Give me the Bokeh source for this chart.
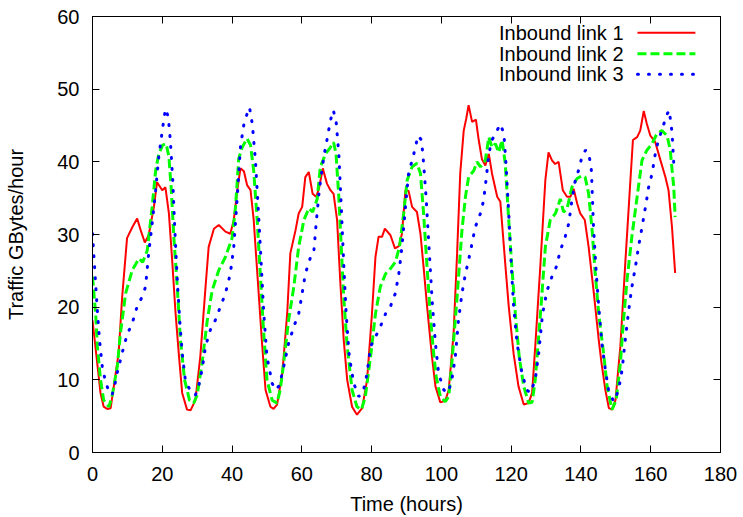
from bokeh.plotting import figure
from bokeh.models import Range1d, LinearAxis, FixedTicker
from bokeh.core.properties import value
from bokeh.embed import file_html
from bokeh.resources import INLINE

# ---------------- data ----------------
link1_x = [0, 2.3, 3.2, 4.2, 5.2, 7.5, 8.5, 9.9, 11.4, 12.8, 13.8, 15.0, 16.1, 17.6, 18.5, 20.0, 20.9,
           21.9, 22.9, 23.8, 24.8, 25.7, 27.1, 28.1, 29.5, 30.9, 32.4, 33.3, 34.8, 36.2, 38.1, 39.5,
           40.5, 41.5, 42.4, 43.4, 44.3, 45.3, 46.2, 47.7, 48.6, 49.6, 51.0, 51.9, 52.9, 54.4, 55.8,
           56.7, 58.2, 59.1, 60.1, 61.0, 62.0, 63.1, 64.1, 64.9, 66.0, 67.2, 68.2, 69.1, 70.1, 71.0,
           72.0, 73.0, 74.4, 75.8, 77.3, 78.7, 80.1, 81.1, 82.0, 83.0, 83.8, 85.4, 86.7, 87.8, 88.7,
           89.7, 90.6, 91.6, 93.0, 94.0, 94.9, 95.9, 97.3, 98.3, 99.7, 101.1, 102.1, 103.5, 104.5,
           105.4, 106.4, 107.1, 107.8, 108.8, 109.9, 110.7, 111.6, 112.6, 113.6, 114.5, 116.0, 116.9,
           118.3, 119.3, 120.7, 122.1, 123.6, 125.0, 126.0, 126.9, 128.4, 129.8, 130.7, 131.7, 132.6,
           133.6, 134.8, 136.0, 137.0, 137.9, 138.9, 139.8, 141.1, 142.2, 143.7, 145.1, 145.9, 147.0,
           148.0, 148.9, 149.9, 151.3, 152.7, 154.0, 154.9, 156.1, 157.0, 158.0, 158.9, 159.9, 161.3,
           162.8, 164.2, 165.1, 166.1, 167.0]
link1_y = [18.2, 8.2, 6.3, 6.0, 6.1, 13.7, 21.4, 29.5, 31.0, 32.2, 30.6, 28.9, 29.9, 33.8, 37.2, 36.1, 36.5,
           32.9, 26.0, 19.2, 13.2, 8.2, 5.9, 5.8, 7.2, 13.2, 22.8, 28.3, 30.8, 31.3, 30.4, 30.1,
           32.0, 36.1, 39.1, 38.7, 36.8, 36.1, 32.0, 21.4, 15.0, 8.6, 6.3, 6.0, 6.6, 10.9, 19.1,
           27.4, 30.6, 32.9, 33.8, 37.9, 38.6, 35.6, 35.2, 36.3, 39.1, 37.0, 36.1, 35.6, 32.0, 23.7,
           15.5, 10.0, 6.3, 5.2, 6.1, 10.0, 19.1, 26.9, 29.7, 29.7, 30.8, 29.9, 28.1, 28.4, 30.1,
           36.1, 36.0, 33.8, 33.1, 30.1, 25.5, 20.1, 13.2, 9.1, 6.9, 7.1, 8.6, 16.4, 27.4,
           38.4, 44.3, 45.9, 47.8, 45.5, 45.8, 43.0, 40.4, 39.5, 41.1, 38.4, 35.2, 34.5,
           26.0, 20.1, 13.6, 9.1, 6.6, 6.8, 8.2, 14.6, 26.0, 37.5, 41.3, 40.2, 39.7,
           40.0, 36.1, 35.2, 35.2, 36.3, 34.3, 32.9, 32.0, 28.3, 21.9, 15.5, 12.3, 8.6,
           6.1, 5.9, 7.2, 14.6, 26.0, 36.1, 43.0, 43.4, 44.3, 47.0, 45.2, 43.6, 42.7,
           40.2, 37.9, 36.1, 31.0, 24.7]

link2_x = [0, 0.9, 1.4, 2.3, 3.2, 4.7, 5.6, 7.1, 8.0, 9.5, 11.4, 13.3, 14.4, 15.7, 17.1, 18.1, 19.0, 20.1,
           21.1, 21.9, 22.6, 23.3, 24.3, 25.2, 26.4, 27.8, 29.0, 30.0, 31.4, 32.9, 34.3, 36.2, 38.1,
           40.0, 41.0, 41.9, 42.9, 44.3, 45.3, 46.2, 47.2, 48.1, 49.0, 50.0, 51.5, 52.9, 53.8, 54.8,
           56.2, 57.7, 59.1, 60.6, 62.0, 63.1, 64.4, 65.3, 66.8, 68.2, 69.1, 69.8, 70.6, 71.3, 72.0,
           73.0, 74.4, 75.8, 77.1, 78.2, 79.7, 81.1, 82.5, 84.0, 85.4, 86.8, 88.0, 89.2, 90.2, 91.6,
           93.0, 94.0, 94.9, 95.9, 96.8, 97.7, 98.5, 99.7, 101.1, 102.1, 103.0, 104.5, 105.9, 106.9,
           107.8, 109.3, 110.2, 111.2, 112.6, 113.6, 114.5, 115.5, 116.4, 117.4, 118.3, 119.3, 120.2,
           121.2, 122.3, 123.6, 125.0, 126.0, 126.9, 128.4, 129.8, 131.2, 132.7, 134.1, 135.0, 136.0,
           137.4, 138.9, 140.3, 141.2, 142.2, 143.2, 144.1, 145.1, 146.5, 147.5, 148.9, 150.1, 151.3,
           152.2, 153.2, 154.6, 156.1, 157.5, 158.9, 160.4, 161.8, 163.2, 164.7, 165.6, 166.6, 167.0]
link2_y = [24.2, 19.1, 14.6, 10.0, 7.2, 6.3, 7.7, 11.8, 16.4, 21.9, 25.1, 26.7, 26.2, 27.8, 33.8, 38.8, 41.1, 42.3,
           42.5, 40.7, 36.1, 29.7, 22.8, 15.5, 10.0, 7.2, 6.8, 7.9, 12.3, 18.2, 22.3, 25.1, 26.9,
           29.5, 33.8, 40.4, 42.0, 43.2, 42.3, 38.8, 32.0, 24.5, 17.0, 10.0, 7.2, 6.8, 8.6, 12.3,
           18.2, 22.8, 28.3, 32.0, 33.6, 33.1, 34.9, 39.3, 41.1, 42.0, 42.7, 41.1, 35.2, 28.3, 21.4,
           14.6, 8.6, 6.3, 5.9, 7.7, 13.2, 19.1, 22.8, 24.6, 25.3, 26.2, 28.3, 32.9, 37.5, 39.3,
           39.8, 38.4, 32.9, 25.5, 19.1, 14.0, 10.5, 7.7, 7.0, 7.7, 12.3, 21.4, 30.6, 35.2,
           37.9, 38.8, 40.0, 39.3, 40.2, 43.4, 42.0, 42.5, 41.3, 43.0, 39.8, 32.0, 25.5,
           19.1, 13.2, 9.1, 6.8, 6.9, 10.0, 19.1, 28.3, 32.0, 32.9, 34.9, 33.1, 33.5,
           36.5, 37.7, 38.1, 37.9, 35.6, 30.6, 24.6, 19.1, 13.6, 9.1, 5.9, 7.2, 12.3,
           18.2, 23.7, 29.7, 35.2, 40.2, 41.6, 42.5, 43.9, 44.3, 43.6, 41.6, 36.5, 32.4]

link3_x = [0, 0.6, 1.3, 2.0, 2.8, 3.7, 4.7, 5.6, 6.4, 7.1, 8.5, 9.9, 11.4, 12.8, 14.2, 15.2, 16.1, 17.1,
           18.1, 19.0, 20.0, 20.9, 21.7, 22.3, 23.0, 23.6, 24.3, 25.0, 25.7, 26.6, 28.1, 29.5, 30.5,
           31.4, 32.4, 33.8, 35.2, 36.7, 38.1, 39.5, 40.5, 41.5, 42.4, 43.4, 44.3, 45.0, 45.8, 46.7,
           47.5, 48.1, 49.1, 50.0, 51.5, 52.6, 53.6, 54.8, 56.2, 57.7, 59.1, 60.1, 61.0, 62.5, 63.4,
           64.1, 65.0, 66.3, 67.2, 68.2, 69.0, 69.8, 70.6, 71.3, 72.0, 72.7, 73.6, 74.9, 76.3, 77.5,
           78.7, 79.7, 81.1, 82.5, 84.0, 85.4, 86.8, 87.8, 88.7, 89.7, 90.6, 92.1, 93.3, 94.3, 94.9,
           95.6, 96.3, 97.4, 98.3, 99.2, 100.7, 101.9, 103.0, 104.0, 104.9, 105.9, 106.9, 107.8, 108.8,
           109.7, 111.2, 112.1, 112.8, 113.6, 114.5, 115.5, 116.9, 117.9, 118.5, 119.3, 120.0, 120.7,
           121.7, 123.1, 124.5, 125.5, 126.9, 127.9, 129.0, 130.3, 131.7, 132.9, 134.1, 135.5, 136.5,
           137.4, 138.4, 139.3, 140.3, 141.3, 142.2, 143.0, 143.6, 144.4, 145.1, 146.0, 147.0, 147.9,
           149.4, 150.8, 151.8, 152.7, 153.7, 154.6, 155.6, 156.5, 157.5, 158.5, 159.4, 160.4, 161.3,
           162.3, 163.2, 164.5, 165.3, 166.1, 166.6]
link3_y = [30.1, 25.5, 20.1, 15.5, 11.8, 9.8, 8.4, 7.9, 9.3, 11.0, 13.7, 16.2, 17.8, 20.1, 21.4, 22.8, 27.4, 31.5,
           36.1, 40.7, 44.3, 47.3, 46.2, 43.0, 37.5, 30.6, 23.7, 18.2, 13.7, 10.0, 8.4, 7.9, 9.3,
           11.4, 14.6, 16.9, 18.2, 20.1, 21.9, 24.6, 28.3, 35.2, 42.0, 45.2, 46.6, 47.5, 45.2, 40.2,
           33.5, 28.3, 19.1, 13.2, 9.5, 8.6, 9.3, 11.8, 15.0, 17.3, 19.1, 21.9, 24.6, 26.9, 27.4,
           31.5, 36.1, 40.7, 43.0, 45.7, 47.1, 45.7, 41.1, 33.8, 26.0, 19.1, 13.2, 9.5, 7.7, 8.2,
           10.9, 14.6, 15.9, 17.3, 19.1, 20.1, 21.9, 24.6, 28.3, 33.8, 38.4, 41.1, 43.6, 43.0, 39.8,
           35.2, 29.5, 20.5, 15.0, 10.9, 8.6, 8.2, 10.0, 13.2, 18.2, 21.9, 24.6, 26.5, 28.8,
           31.0, 32.9, 34.7, 37.5, 41.1, 43.0, 43.9, 45.2, 43.9, 39.8, 32.9, 26.0, 20.1,
           15.0, 10.9, 8.6, 8.2, 10.0, 13.7, 19.1, 22.3, 24.2, 25.5, 27.8, 29.7, 31.5,
           34.7, 37.5, 38.8, 40.7, 41.6, 41.3, 38.8, 31.0, 24.6, 20.1, 15.0, 11.4, 8.6,
           7.0, 8.6, 11.4, 15.5, 19.6, 22.8, 25.5, 28.3, 31.0, 33.8, 36.5, 38.4, 41.1,
           43.2, 44.3, 46.4, 47.1, 44.1, 39.8]

series_names = ["Inbound link 1", "Inbound link 2", "Inbound link 3"]
x_ticks = [0, 20, 40, 60, 80, 100, 120, 140, 160, 180]
y_ticks = [0, 10, 20, 30, 40, 50, 60]

# ---------------- figure ----------------
FONT = "Liberation Sans"
p = figure(width=743, height=517, output_backend="svg", toolbar_location=None,
           x_range=Range1d(0, 180), y_range=Range1d(0, 60),
           min_border_left=92, min_border_right=23, min_border_top=16, min_border_bottom=64,
           x_axis_label="Time (hours)", y_axis_label="Traffic GBytes/hour")
p.background_fill_color = "white"
p.border_fill_color = "white"
p.grid.visible = False
p.outline_line_color = "black"
p.outline_line_width = 1

def style_axis(ax, ticks, labels=True):
    ax.ticker = FixedTicker(ticks=ticks)
    ax.axis_line_color = "black"
    ax.major_tick_line_color = "black"
    ax.major_tick_in = 7
    ax.major_tick_out = 0
    ax.minor_tick_line_color = None
    ax.major_label_text_font = FONT
    ax.axis_label_text_font = FONT
    ax.axis_label_text_font_style = "normal"
    ax.axis_label_text_font_size = "20px"
    ax.axis_label_text_color = "black"
    if labels:
        ax.major_label_text_font_size = "20px"
        ax.major_label_text_color = "black"
    else:
        # mirrored ticks only (gnuplot style); labels not drawn
        ax.major_label_text_font_size = "1px"
        ax.major_label_text_color = None
        ax.major_label_standoff = 0

style_axis(p.xaxis[0], x_ticks)
style_axis(p.yaxis[0], y_ticks)
p.xaxis[0].major_label_standoff = 14
p.xaxis[0].axis_label_standoff = 9
p.yaxis[0].major_label_standoff = 13
p.yaxis[0].axis_label_standoff = 27

top = LinearAxis()
style_axis(top, x_ticks, labels=False)
p.add_layout(top, "above")
right = LinearAxis()
style_axis(right, y_ticks, labels=False)
p.add_layout(right, "right")

# ---------------- series ----------------
p.line(link1_x, link1_y, line_color="#ff0000", line_width=2)
p.line(link2_x, link2_y, line_color="#00ff00", line_width=3, line_dash="9 4", line_cap="butt")
p.line(link3_x, link3_y, line_color="#0000ff", line_width=3, line_dash="1 10", line_cap="round")

# ---------------- key (gnuplot style: text then sample) ----------------
key_text_x = 152.2
key_x0, key_x1 = 156.2, 172.8
key_rows = [57.76, 54.87, 52.06]
styles = [dict(line_color="#ff0000", line_width=2),
          dict(line_color="#00ff00", line_width=3, line_dash="9 4", line_cap="butt"),
          dict(line_color="#0000ff", line_width=3, line_dash="1 10", line_cap="round")]
for name, yr, st in zip(series_names, key_rows, styles):
    p.text(x=[key_text_x], y=[yr], text=[name], text_font=value(FONT), text_font_size="20px",
           text_align="right", text_baseline="middle", text_color="black")
    p.segment(x0=[key_x0], y0=[yr], x1=[key_x1], y1=[yr], **st)

open("out.html", "w").write(file_html(p, INLINE))
